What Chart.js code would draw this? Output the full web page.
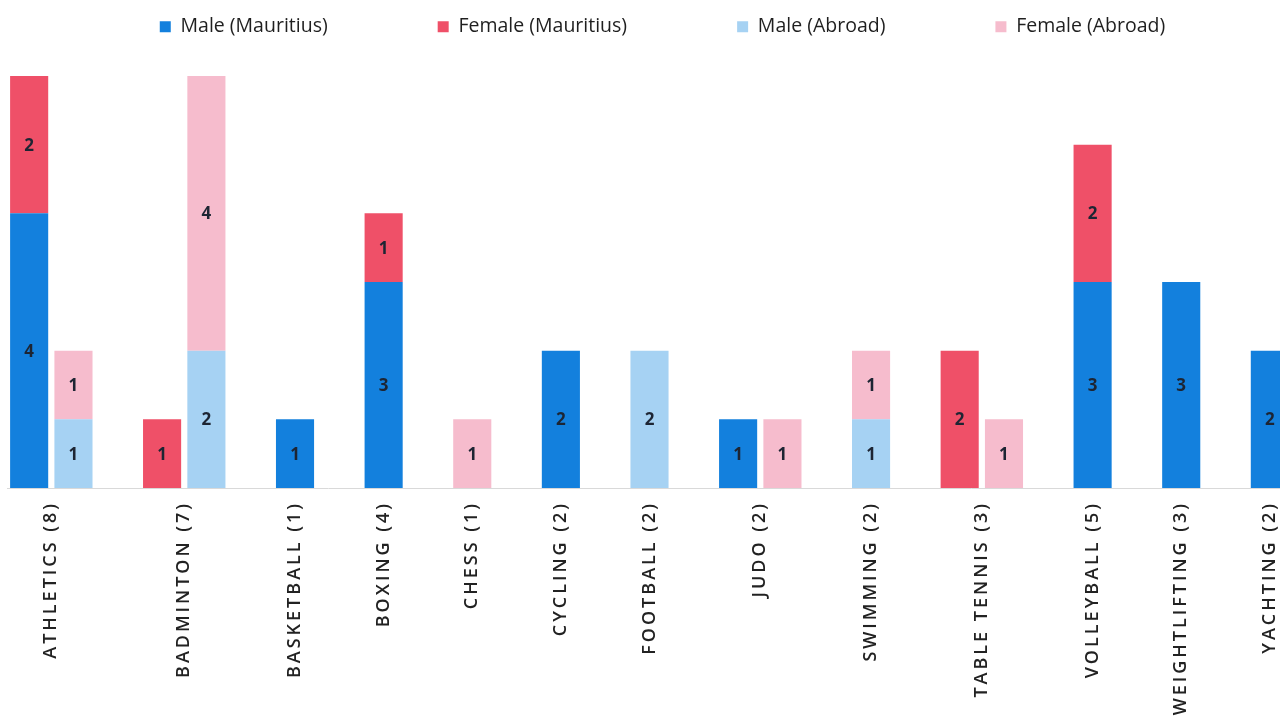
<!DOCTYPE html>
<html>
<head>
<meta charset="utf-8">
<script src="https://cdn.jsdelivr.net/npm/chart.js@4/dist/chart.umd.min.js"></script>
<style>
  html, body { margin: 0; padding: 0; background: #ffffff; overflow: hidden; width: 1280px; height: 722px; }
  #wrap { width: 1292px; height: 722px; }
  canvas { display: block; }
</style>
</head>
<body>
<div id="wrap"><canvas id="c" width="1292" height="722"></canvas></div>
<script>
// ---- data ----
const sports = ['ATHLETICS (8)', 'BADMINTON (7)', 'BASKETBALL (1)', 'BOXING (4)', 'CHESS (1)',
  'CYCLING (2)', 'FOOTBALL (2)', 'JUDO (2)', 'SWIMMING (2)', 'TABLE TENNIS (3)',
  'VOLLEYBALL (5)', 'WEIGHTLIFTING (3)', 'YACHTING (2)'];
const maleMauritius   = [4, 0, 1, 3, 0, 2, 0, 1, 0, 0, 3, 3, 2];
const femaleMauritius = [2, 1, 0, 1, 0, 0, 0, 0, 0, 2, 2, 0, 0];
const maleAbroad      = [1, 2, 0, 0, 0, 0, 2, 0, 1, 0, 0, 0, 0];
const femaleAbroad    = [1, 4, 0, 0, 1, 0, 0, 1, 1, 1, 0, 0, 0];
const seriesNames = ['Male (Mauritius)', 'Female (Mauritius)', 'Male (Abroad)', 'Female (Abroad)'];
const seriesColors = ['#1380DD', '#EF5068', '#A6D2F3', '#F6BCCD'];

// ---- build slot layout: one column for Mauritius, one for Abroad (if any), then a gap ----
const mmData = [], fmData = [], maData = [], faData = [];
const tickPos = [], tickText = {};
let slot = 0;
sports.forEach((name, i) => {
  const start = slot;
  if (maleMauritius[i] + femaleMauritius[i] > 0) {
    if (maleMauritius[i] > 0) mmData.push({ x: slot, y: maleMauritius[i] });
    if (femaleMauritius[i] > 0) fmData.push({ x: slot, y: femaleMauritius[i] });
    slot++;
  }
  if (maleAbroad[i] + femaleAbroad[i] > 0) {
    if (maleAbroad[i] > 0) maData.push({ x: slot, y: maleAbroad[i] });
    if (femaleAbroad[i] > 0) faData.push({ x: slot, y: femaleAbroad[i] });
    slot++;
  }
  const c = (start + slot - 1) / 2;
  tickPos.push(c);
  tickText[c] = name;
  slot++;
});
const lastSlot = slot - 2;

const FONT = "'Open Sans', 'Noto Sans', sans-serif";

const tweaks = {
  id: 'tweaks',
  beforeDraw(chart) {
    const xs = chart.scales.x;
    if (xs && !xs.__spaced) {
      const orig = xs.drawLabels;
      xs.drawLabels = function (area) {
        const ctx = this.ctx;
        ctx.save();
        ctx.letterSpacing = '3px';
        orig.call(this, area);
        ctx.restore();
      };
      xs.__spaced = true;
    }
    const lg = chart.legend;
    if (lg && !lg.__shifted) {
      const origL = lg.draw;
      lg.draw = function () {
        const t = this.top, l = this.left, r = this.right;
        this.top = t - 93; this.left = l + 13; this.right = r + 13;
        origL.apply(this, arguments);
        this.top = t; this.left = l; this.right = r;
      };
      lg.__shifted = true;
    }
  }
};

const valueLabels = {
  id: 'valueLabels',
  afterDatasetsDraw(chart) {
    const ctx = chart.ctx;
    ctx.save();
    ctx.font = "bold 17px " + FONT;
    ctx.fillStyle = '#1d2533';
    ctx.textAlign = 'center';
    ctx.textBaseline = 'middle';
    chart.data.datasets.forEach((ds, di) => {
      const meta = chart.getDatasetMeta(di);
      meta.data.forEach((el, j) => {
        const v = ds.data[j].y;
        if (!v) return;
        ctx.fillText(String(v), el.x, (el.y + el.base) / 2 + 1);
      });
    });
    ctx.restore();
  }
};

const datasetsSrc = [mmData, fmData, maData, faData];
new Chart(document.getElementById('c'), {
  type: 'bar',
  data: {
    datasets: datasetsSrc.map((d, k) => ({
      label: seriesNames[k],
      data: d,
      backgroundColor: seriesColors[k],
      borderWidth: 0,
      categoryPercentage: 1,
      barPercentage: 0.86
    }))
  },
  options: {
    responsive: false,
    animation: false,
    devicePixelRatio: 1,
    layout: { padding: { left: 7, right: 0, top: 0, bottom: 0 } },
    plugins: {
      legend: {
        position: 'top',
        maxHeight: 76,
        labels: {
          boxWidth: 11,
          boxHeight: 11,
          padding: 110,
          color: '#1f1f1f',
          font: { family: FONT, size: 19.5 }
        }
      },
      tooltip: { enabled: false }
    },
    scales: {
      x: {
        type: 'linear',
        offset: false,
        stacked: true,
        min: -0.5,
        max: lastSlot + 0.5,
        grid: { display: false, drawTicks: false, offset: false },
        border: { display: true, color: '#d9d9d9', width: 1 },
        afterBuildTicks: (s) => { s.ticks = tickPos.map(v => ({ value: v })); },
        afterFit: (s) => { s.height = 234; s.paddingLeft = 0; s.paddingRight = 0; },
        ticks: {
          autoSkip: false,
          minRotation: 90,
          maxRotation: 90,
          padding: 13,
          color: '#222222',
          font: { family: FONT, size: 18, weight: '600' },
          callback: (v) => tickText[v] || ''
        }
      },
      y: {
        stacked: true,
        display: false,
        min: 0,
        max: 6
      }
    }
  },
  plugins: [tweaks, valueLabels]
});
</script>
</body>
</html>
